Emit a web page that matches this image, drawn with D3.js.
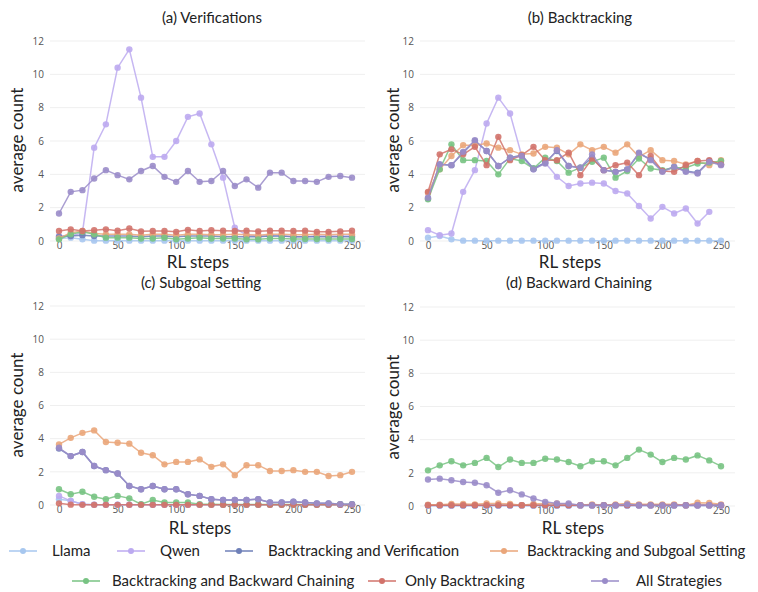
<!DOCTYPE html>
<html>
<head>
<meta charset="utf-8">
<script src="https://cdn.jsdelivr.net/npm/d3@7"></script>
<style>
  body { margin: 0; background: #fff; }
  svg text { font-family: Lato, "Open Sans", sans-serif; }
</style>
</head>
<body>
<div id="chart"></div>
<script>
var steps = d3.range(0, 260, 10);
var yTicks = [0, 2, 4, 6, 8, 10, 12];
var xTicks = [0, 50, 100, 150, 200, 250];

var seriesNames = ["Llama", "Qwen", "Backtracking and Verification", "Backtracking and Subgoal Setting",
  "Backtracking and Backward Chaining", "Only Backtracking", "All Strategies"];
var seriesColors = ["#a7c7ef", "#bcaaf0", "#6f80b8", "#eaa67a", "#78c383", "#d2736b", "#9a8cc9"];
var panelTitles = ["(a) Verifications", "(b) Backtracking", "(c) Subgoal Setting", "(d) Backward Chaining"];

// (a) Verifications
var verLlama = [0.15, 0.2, 0.1, 0.02, 0.02, 0.02, 0.02, 0.02, 0.02, 0.02, 0.02, 0.02, 0.02, 0.02, 0.02, 0.02, 0.02, 0.02, 0.02, 0.02, 0.02, 0.02, 0.02, 0.02, 0.02, 0.02];
var verQwen = [0.3, 0.3, 0.5, 5.6, 7.0, 10.4, 11.5, 8.6, 5.05, 5.05, 6.0, 7.45, 7.65, 5.8, 3.8, 0.8, 0.35, 0.3, 0.3, 0.3, 0.25, 0.25, 0.3, 0.3, 0.3, 0.3];
var verBV = [0.25, 0.3, 0.35, 0.3, 0.3, 0.3, 0.3, 0.25, 0.3, 0.3, 0.25, 0.3, 0.3, 0.3, 0.25, 0.25, 0.25, 0.25, 0.3, 0.3, 0.25, 0.25, 0.25, 0.25, 0.25, 0.25];
var verBS = [0.15, 0.5, 0.6, 0.45, 0.4, 0.4, 0.4, 0.35, 0.4, 0.4, 0.35, 0.4, 0.4, 0.38, 0.38, 0.4, 0.38, 0.35, 0.4, 0.4, 0.38, 0.38, 0.4, 0.38, 0.4, 0.4];
var verBBC = [0.1, 0.4, 0.55, 0.4, 0.2, 0.2, 0.2, 0.15, 0.15, 0.2, 0.1, 0.15, 0.2, 0.15, 0.15, 0.15, 0.1, 0.1, 0.15, 0.15, 0.12, 0.12, 0.12, 0.12, 0.12, 0.12];
var verOB = [0.6, 0.7, 0.6, 0.65, 0.7, 0.62, 0.75, 0.58, 0.6, 0.6, 0.55, 0.67, 0.6, 0.65, 0.62, 0.6, 0.62, 0.58, 0.62, 0.62, 0.6, 0.62, 0.55, 0.55, 0.58, 0.62];
var verAS = [1.65, 2.95, 3.05, 3.75, 4.25, 3.95, 3.7, 4.2, 4.5, 3.85, 3.55, 4.2, 3.55, 3.6, 4.2, 3.3, 3.7, 3.2, 4.1, 4.1, 3.6, 3.6, 3.55, 3.85, 3.9, 3.8];

// (b) Backtracking
var btLlama = [0.2, 0.3, 0.1, 0.02, 0.02, 0.02, 0.02, 0.02, 0.02, 0.02, 0.02, 0.02, 0.02, 0.02, 0.02, 0.02, 0.02, 0.02, 0.02, 0.02, 0.02, 0.02, 0.02, 0.02, 0.02, 0.02];
var btQwen = [0.65, 0.35, 0.45, 2.95, 4.25, 7.05, 8.6, 7.65, 5.1, 4.3, 4.7, 3.85, 3.3, 3.45, 3.5, 3.45, 3.0, 2.85, 2.1, 1.35, 2.05, 1.65, 1.95, 1.05, 1.75, null];
var btBV = [2.55, 4.6, 4.55, 5.3, 6.0, 5.4, 4.5, 5.0, 5.15, 4.35, 4.7, 5.4, 4.5, 4.4, 5.0, 4.25, 4.15, 4.3, 5.25, 4.9, 4.2, 4.45, 4.2, 4.1, 4.8, 4.6];
var btBS = [2.9, 4.3, 5.1, 5.75, 5.75, 5.85, 5.6, 5.45, 5.2, 5.25, 5.65, 5.6, 5.2, 5.8, 5.45, 5.65, 5.3, 5.8, 5.05, 5.45, 4.85, 4.8, 4.6, 4.8, 4.55, 4.85];
var btBBC = [2.5, 4.3, 5.8, 4.85, 4.85, 4.8, 4.0, 4.95, 4.8, 4.35, 5.0, 4.8, 4.1, 4.4, 4.75, 5.0, 3.8, 4.2, 4.95, 4.35, 4.25, 4.4, 4.4, 4.65, 4.7, 4.8];
var btOB = [2.95, 5.2, 5.5, 5.2, 5.65, 4.55, 6.25, 4.85, 5.15, 5.65, 4.85, 4.85, 5.3, 3.95, 4.95, 4.25, 4.55, 4.7, 3.95, 5.1, 4.2, 4.15, 4.55, 4.8, 4.85, 4.6];
var btAS = [2.6, 4.6, 4.55, 5.35, 6.05, 5.4, 4.5, 5.0, 5.1, 4.3, 4.65, 5.45, 4.5, 4.4, 5.2, 4.25, 4.15, 4.3, 5.3, 4.85, 4.15, 4.45, 4.15, 4.05, 4.75, 4.55];

// (c) Subgoal Setting
var sgLlama = [0.35, 0.25, 0.05, 0.02, 0.02, 0.02, 0.02, 0.02, 0.02, 0.02, 0.02, 0.02, 0.02, 0.02, 0.02, 0.02, 0.02, 0.02, 0.02, 0.02, 0.02, 0.02, 0.02, 0.02, 0.02, 0.02];
var sgQwen = [0.55, 0.25, 0.05, 0.02, 0.02, 0.02, 0.02, 0.02, 0.02, 0.02, 0.02, 0.02, 0.02, 0.02, 0.02, 0.02, 0.02, 0.02, 0.02, 0.02, 0.02, 0.02, 0.02, 0.02, 0.02, 0.02];
var sgBV = [3.4, 2.95, 3.2, 2.35, 2.1, 1.9, 1.15, 0.95, 1.15, 0.95, 0.95, 0.65, 0.55, 0.35, 0.3, 0.3, 0.3, 0.35, 0.15, 0.15, 0.2, 0.15, 0.1, 0.1, 0.05, 0.05];
var sgBS = [3.65, 4.05, 4.35, 4.5, 3.8, 3.75, 3.7, 3.15, 3.0, 2.45, 2.6, 2.6, 2.75, 2.3, 2.45, 1.8, 2.4, 2.4, 2.05, 2.05, 2.1, 2.0, 2.0, 1.75, 1.8, 2.0];
var sgBBC = [0.95, 0.65, 0.8, 0.5, 0.35, 0.55, 0.4, 0.05, 0.3, 0.15, 0.15, 0.15, 0.05, 0.05, 0.03, 0.03, 0.03, 0.03, 0.03, 0.03, 0.03, 0.03, 0.03, 0.03, 0.03, 0.03];
var sgOB = [0.1, 0.02, 0.01, 0.01, 0.01, 0.01, 0.01, 0.01, 0.01, 0.01, 0.01, 0.01, 0.01, 0.01, 0.01, 0.01, 0.01, 0.01, 0.01, 0.01, 0.01, 0.01, 0.01, 0.01, 0.01, 0.01];
var sgAS = [3.45, 2.95, 3.2, 2.35, 2.1, 1.9, 1.15, 0.95, 1.15, 0.95, 0.95, 0.65, 0.55, 0.35, 0.3, 0.3, 0.3, 0.35, 0.15, 0.15, 0.2, 0.15, 0.1, 0.1, 0.05, 0.05];

// (d) Backward Chaining
var bcLlama = [0.02, 0.02, 0.02, 0.02, 0.02, 0.02, 0.02, 0.02, 0.02, 0.02, 0.02, 0.02, 0.02, 0.02, 0.02, 0.02, 0.02, 0.02, 0.02, 0.02, 0.02, 0.02, 0.02, 0.02, 0.02, 0.02];
var bcQwen = [0.03, 0.03, 0.03, 0.03, 0.03, 0.03, 0.03, 0.03, 0.03, 0.03, 0.03, 0.03, 0.03, 0.03, 0.03, 0.03, 0.03, 0.03, 0.03, 0.03, 0.03, 0.03, 0.03, 0.03, 0.03, 0.03];
var bcBV = [0.05, 0.05, 0.05, 0.05, 0.05, 0.05, 0.05, 0.05, 0.05, 0.05, 0.05, 0.05, 0.05, 0.05, 0.05, 0.05, 0.05, 0.05, 0.05, 0.05, 0.05, 0.05, 0.05, 0.05, 0.05, 0.05];
var bcBS = [0.08, 0.08, 0.12, 0.12, 0.1, 0.15, 0.15, 0.12, 0.05, 0.12, 0.15, 0.15, 0.1, 0.05, 0.1, 0.05, 0.1, 0.15, 0.1, 0.1, 0.1, 0.1, 0.05, 0.2, 0.18, 0.1];
var bcBBC = [2.15, 2.45, 2.7, 2.45, 2.6, 2.9, 2.35, 2.8, 2.6, 2.6, 2.85, 2.8, 2.65, 2.4, 2.7, 2.7, 2.45, 2.9, 3.4, 3.1, 2.65, 2.9, 2.8, 3.05, 2.75, 2.4];
var bcOB = [0.05, 0.05, 0.05, 0.05, 0.05, 0.05, 0.05, 0.05, 0.05, 0.05, 0.05, 0.05, 0.05, 0.05, 0.05, 0.05, 0.05, 0.05, 0.05, 0.05, 0.05, 0.05, 0.05, 0.05, 0.05, 0.05];
var bcAS = [1.6, 1.65, 1.55, 1.45, 1.4, 1.25, 0.8, 0.95, 0.7, 0.45, 0.25, 0.15, 0.15, 0.05, 0.05, 0.05, 0.05, 0.1, 0.05, 0.05, 0.05, 0.05, 0.05, 0.05, 0.05, 0.05];

var panelData = [
  [verLlama, verQwen, verBV, verBS, verBBC, verOB, verAS],
  [btLlama, btQwen, btBV, btBS, btBBC, btOB, btAS],
  [sgLlama, sgQwen, sgBV, sgBS, sgBBC, sgOB, sgAS],
  [bcLlama, bcQwen, bcBV, bcBS, bcBBC, bcOB, bcAS]
];

// panel layout
var panels = [
  { x0: 59, x1: 352, top: 41, bottom: 241, gx0: 50, gx1: 365, titleX: 212, titleY: 23, ylabX: 17, ylabY: 140, xlabX: 198, xlabY: 268 },
  { x0: 428, x1: 721, top: 41, bottom: 241, gx0: 420, gx1: 735, titleX: 580, titleY: 23, ylabX: 393, ylabY: 140, xlabX: 570, xlabY: 268 },
  { x0: 59, x1: 352, top: 306, bottom: 505, gx0: 50, gx1: 365, titleX: 201, titleY: 288, ylabX: 17, ylabY: 405, xlabX: 200, xlabY: 534 },
  { x0: 428, x1: 721, top: 307, bottom: 506, gx0: 420, gx1: 735, titleX: 579, titleY: 288, ylabX: 393, ylabY: 407, xlabX: 573, xlabY: 534 }
];

var width = 758, height = 592;

var svg = d3.select("#chart")
  .append("svg")
  .attr("width", width)
  .attr("height", height);

panels.forEach(function(p, pi) {
  var x = d3.scaleLinear().domain([0, 250]).range([p.x0, p.x1]);
  var y = d3.scaleLinear().domain([0, 12]).range([p.bottom, p.top]);
  var g = svg.append("g").attr("class", "panel");

  // gridlines
  g.selectAll("line.grid")
    .data(yTicks)
    .enter().append("line")
    .attr("class", "grid")
    .attr("x1", p.gx0)
    .attr("x2", p.gx1)
    .attr("y1", function(d) { return y(d); })
    .attr("y2", function(d) { return y(d); })
    .style("stroke", "#efefef")
    .style("stroke-width", 1);

  // axes
  var yAxis = g.append("g")
    .attr("transform", "translate(" + (p.gx0 - 4) + ",0)")
    .call(d3.axisLeft(y).tickValues(yTicks).tickSize(0).tickPadding(2));
  var xAxis = g.append("g")
    .attr("transform", "translate(0," + (p.bottom - 1) + ")")
    .call(d3.axisBottom(x).tickValues(xTicks).tickSize(0).tickPadding(2));
  [yAxis, xAxis].forEach(function(a) {
    a.select(".domain").remove();
    a.selectAll("text")
      .style("font-family", "'Open Sans', sans-serif")
      .style("font-size", "10px")
      .style("fill", "#555");
  });

  // series
  var line = d3.line()
    .defined(function(d) { return d !== null; })
    .x(function(d, i) { return x(steps[i]); })
    .y(function(d) { return y(d); });

  panelData[pi].forEach(function(vals, si) {
    var sg = g.append("g").attr("class", "series");
    sg.append("path")
      .datum(vals)
      .attr("d", line)
      .style("fill", "none")
      .style("stroke", seriesColors[si])
      .style("stroke-width", 1.5)
      .style("opacity", 0.85);
    sg.selectAll("circle")
      .data(vals.map(function(v, i) { return { v: v, s: steps[i] }; }).filter(function(d) { return d.v !== null; }))
      .enter().append("circle")
      .attr("cx", function(d) { return x(d.s); })
      .attr("cy", function(d) { return y(d.v); })
      .attr("r", 3.2)
      .style("fill", seriesColors[si])
      .style("opacity", 0.9);
  });

  // labels
  g.append("text")
    .attr("x", p.titleX)
    .attr("y", p.titleY)
    .attr("text-anchor", "middle")
    .style("font-size", "15px")
    .style("fill", "#222")
    .text(panelTitles[pi]);

  g.append("text")
    .attr("transform", "translate(" + p.ylabX + "," + p.ylabY + ") rotate(-90)")
    .attr("text-anchor", "middle")
    .attr("dy", "0.35em")
    .style("font-size", "17px")
    .style("fill", "#222")
    .text("average count");

  g.append("text")
    .attr("x", p.xlabX)
    .attr("y", p.xlabY)
    .attr("text-anchor", "middle")
    .style("font-size", "17px")
    .style("fill", "#222")
    .text("RL steps");
});

// legend
var legendPos = [
  { mx: 23, tx: 52, y: 551 },
  { mx: 131, tx: 160, y: 551 },
  { mx: 239, tx: 268, y: 551 },
  { mx: 504, tx: 527, y: 551 },
  { mx: 86, tx: 112, y: 581 },
  { mx: 382, tx: 405, y: 581 },
  { mx: 605, tx: 636, y: 581 }
];

var legend = svg.append("g").attr("class", "legend");
seriesNames.forEach(function(name, i) {
  var lp = legendPos[i];
  legend.append("line")
    .attr("x1", lp.mx - 14)
    .attr("x2", lp.mx + 14)
    .attr("y1", lp.y)
    .attr("y2", lp.y)
    .style("stroke", seriesColors[i])
    .style("stroke-width", 1.5);
  legend.append("circle")
    .attr("cx", lp.mx)
    .attr("cy", lp.y)
    .attr("r", 3)
    .style("fill", seriesColors[i]);
  legend.append("text")
    .attr("x", lp.tx)
    .attr("y", lp.y)
    .attr("dy", "0.35em")
    .style("font-size", "15px")
    .style("fill", "#222")
    .text(name);
});
</script>
</body>
</html>
